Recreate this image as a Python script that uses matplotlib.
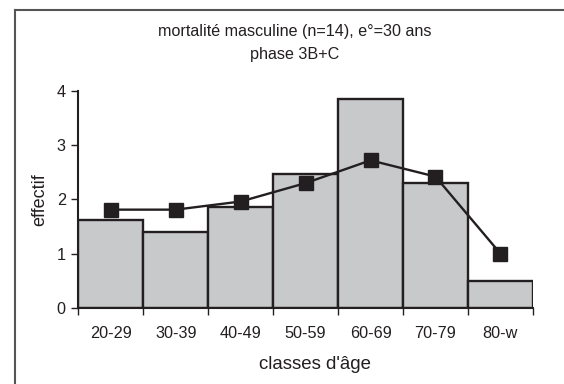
#!/usr/bin/env python3

"""Distribution of male deaths by age class, phase 3B+C."""

import numpy as np
import matplotlib.pyplot as plt
from matplotlib.lines import Line2D

plt.rcParams['font.family'] = ['Liberation Sans', 'DejaVu Sans']

classes = ['20-29', '30-39', '40-49', '50-59', '60-69', '70-79', '80-w']
observed = [1.61, 1.40, 1.86, 2.46, 3.85, 2.31, 0.50]
model = [1.81, 1.81, 1.96, 2.30, 2.72, 2.42, 1.00]
yticks = [0, 1, 2, 3, 4]

ink = '#231f20'

fig = plt.figure(figsize=(5.64, 3.84), dpi=100)
ax = fig.add_axes([0.1388, 0.1987, 0.806, 0.5643])

x = np.arange(len(classes))
ax.bar(x, observed, width=1.0, color='#c8c9cb', edgecolor=ink,
       linewidth=1.7, zorder=2)
ax.plot(x, model, color=ink, linewidth=1.7, marker='s',
        markersize=10.5, markerfacecolor=ink, markeredgecolor=ink,
        zorder=3)

ax.set_xlim(-0.5, len(classes) - 0.5)
ax.set_ylim(0, 4)
ax.set_yticks(yticks)

# boundary ticks without labels, class names centred under each bar
ax.set_xticks(np.arange(len(classes) + 1) - 0.5)
ax.set_xticklabels([])
ax.set_xticks(x, minor=True)
ax.set_xticklabels(classes, minor=True)
ax.tick_params(axis='x', which='major', direction='out', length=5,
               width=1, color=ink)
ax.tick_params(axis='x', which='minor', length=0, pad=13, labelsize=11.7,
               labelcolor=ink)
ax.tick_params(axis='y', direction='out', length=5, width=1,
               color=ink, labelsize=11.7, labelcolor=ink, pad=4)

for side in ('top', 'right'):
    ax.spines[side].set_visible(False)
for side in ('left', 'bottom'):
    ax.spines[side].set_linewidth(1.5)
    ax.spines[side].set_color(ink)

ax.set_xlabel("classes d'âge", fontsize=13.4, color=ink, labelpad=12)
ax.xaxis.set_label_coords(0.52, -0.225)
ax.set_ylabel('effectif', fontsize=13, color=ink, labelpad=6)

fig.text(0.522, 0.9175, 'mortalité masculine (n=14), e°=30 ans',
         ha='center', va='center', fontsize=11.6, color=ink)
fig.text(0.522, 0.859, 'phase 3B+C', ha='center', va='center',
         fontsize=11.6, color=ink)

# chart frame, running past the right and bottom edges
fx, fy = 14.5 / 564, 1 - 9.5 / 384
fig.add_artist(Line2D([fx, fx], [-0.1, fy], transform=fig.transFigure,
                      color='#555555', linewidth=1.5))
fig.add_artist(Line2D([fx, 1.1], [fy, fy], transform=fig.transFigure,
                      color='#555555', linewidth=1.5))

fig.savefig('out.png', dpi=100)
